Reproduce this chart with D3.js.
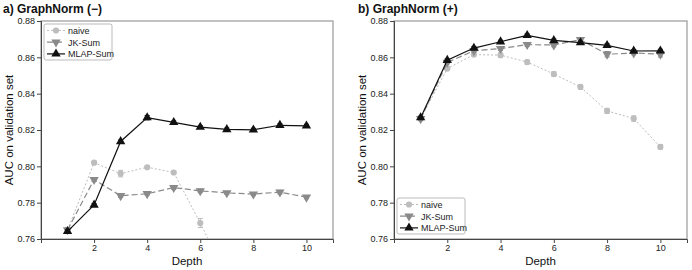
<!DOCTYPE html>
<html>
<head>
<meta charset="utf-8">
<script src="https://cdn.jsdelivr.net/npm/d3@7"></script>
<style>
  body { margin: 0; background: #fff; }
  text { font-family: "Liberation Sans", Arial, sans-serif; }
</style>
</head>
<body>
<div id="chart"></div>
<script>
var depths = [1, 2, 3, 4, 5, 6, 7, 8, 9, 10];
var yTicks = [0.76, 0.78, 0.80, 0.82, 0.84, 0.86, 0.88];
var xTicks = [2, 4, 6, 8, 10];
var seriesNames = ["naive", "JK-Sum", "MLAP-Sum"];

// panel a) GraphNorm (-)
var naiveA = [0.7650, 0.8020, 0.7960, 0.7995, 0.7966, 0.7688, 0.7390, 0.7200, 0.7050, 0.6950];
var naiveAErr = [0.0010, 0.0008, 0.0018, 0.0007, 0.0008, 0.0025, 0.002, 0.002, 0.002, 0.002];
var jkA = [0.7650, 0.7927, 0.7838, 0.7849, 0.7883, 0.7865, 0.7854, 0.7847, 0.7858, 0.7830];
var jkAErr = [0.0010, 0.0010, 0.0009, 0.0008, 0.0010, 0.0010, 0.0008, 0.0008, 0.0010, 0.0008];
var mlapA = [0.7642, 0.7787, 0.8137, 0.8268, 0.8242, 0.8216, 0.8203, 0.8201, 0.8226, 0.8223];
var mlapAErr = [0.0010, 0.0008, 0.0008, 0.0012, 0.0008, 0.0008, 0.0008, 0.0008, 0.0008, 0.0008];

// panel b) GraphNorm (+)
var naiveB = [0.8262, 0.8538, 0.8615, 0.8612, 0.8574, 0.8508, 0.8437, 0.8305, 0.8263, 0.8107];
var naiveBErr = [0.0008, 0.0008, 0.0008, 0.0012, 0.0012, 0.0013, 0.0012, 0.0014, 0.0015, 0.0012];
var jkB = [0.8262, 0.8572, 0.8636, 0.8648, 0.8670, 0.8668, 0.8697, 0.8617, 0.8624, 0.8617];
var jkBErr = [0.0008, 0.0008, 0.0008, 0.0010, 0.0010, 0.0010, 0.0008, 0.0015, 0.0010, 0.0015];
var mlapB = [0.8268, 0.8584, 0.8651, 0.8686, 0.8721, 0.8693, 0.8681, 0.8666, 0.8635, 0.8636];
var mlapBErr = [0.0008, 0.0008, 0.0008, 0.0008, 0.0008, 0.0008, 0.0008, 0.0008, 0.0008, 0.0008];

var styles = [
  {color: "#bdbdbd", dash: "2,2", width: 1, shape: "circle"},
  {color: "#8a8a8a", dash: "6,3", width: 1.2, shape: "down"},
  {color: "#111111", dash: null, width: 1.2, shape: "up"}
];

var width = 692, height = 270;
var svg = d3.select("#chart").append("svg")
  .attr("width", width)
  .attr("height", height);

function drawMarker(g, shape, color, cx, cy) {
  if (shape == "circle") {
    g.append("circle").attr("cx", cx).attr("cy", cy).attr("r", 3.1).attr("fill", color);
  } else {
    var sym = d3.symbol().type(d3.symbolTriangle).size(38);
    g.append("path")
      .attr("d", sym)
      .attr("fill", color)
      .attr("transform", "translate(" + cx + "," + cy + ")" + (shape == "down" ? " rotate(180)" : ""));
  }
}

function drawPanel(opts) {
  var left = opts.left, right = opts.right, top = 21, bottom = 239;

  var x = d3.scaleLinear().domain([0, 11]).range([left, right]);
  var y = d3.scaleLinear().domain([0.76, 0.88]).range([bottom, top]);

  var g = svg.append("g");

  g.append("text")
    .attr("x", opts.titleX).attr("y", 13)
    .attr("font-size", 12).attr("font-weight", "bold")
    .attr("fill", "#111")
    .text(opts.title);

  // frame
  g.append("rect")
    .attr("x", left).attr("y", top)
    .attr("width", right - left).attr("height", bottom - top)
    .attr("fill", "none").attr("stroke", "#999").attr("stroke-width", 1.2);

  var yAxis = g.append("g")
    .attr("transform", "translate(" + left + ",0)")
    .call(d3.axisLeft(y).tickValues(yTicks).tickFormat(d3.format(".2f")).tickSize(4).tickPadding(2));
  var xAxis = g.append("g")
    .attr("transform", "translate(0," + bottom + ")")
    .call(d3.axisBottom(x).tickValues(xTicks).tickSize(4).tickPadding(2));
  [xAxis, yAxis].forEach(function(a) {
    a.selectAll("path").attr("stroke", "#444");
    a.selectAll("line").attr("stroke", "#444");
    a.selectAll("text").attr("font-size", 9).attr("fill", "#222")
      .style("font-family", "'Liberation Sans', Arial, sans-serif");
  });

  g.append("text")
    .attr("transform", "translate(" + opts.yTitleX + "," + ((top + bottom) / 2) + ") rotate(-90)")
    .attr("text-anchor", "middle")
    .attr("font-size", 11.5).attr("fill", "#111")
    .text("AUC on validation set");

  g.append("text")
    .attr("x", (left + right) / 2).attr("y", 265)
    .attr("text-anchor", "middle")
    .attr("font-size", 11.5).attr("fill", "#111")
    .text("Depth");

  var clipId = "clip" + opts.id;
  svg.append("clipPath").attr("id", clipId)
    .append("rect").attr("x", left).attr("y", top).attr("width", right - left).attr("height", bottom - top + 1);

  var plot = g.append("g").attr("clip-path", "url(#" + clipId + ")");

  var line = d3.line()
    .x(function(d, i) { return x(depths[i]); })
    .y(function(d) { return y(d); });

  opts.series.forEach(function(s, k) {
    var st = styles[k];
    var sg = plot.append("g");
    sg.append("path")
      .datum(s.values)
      .attr("fill", "none")
      .attr("stroke", st.color)
      .attr("stroke-width", st.width)
      .attr("stroke-dasharray", st.dash)
      .attr("d", line);
    s.values.forEach(function(v, i) {
      var cx = x(depths[i]);
      var e = s.err[i];
      sg.append("line").attr("x1", cx).attr("x2", cx)
        .attr("y1", y(v - e)).attr("y2", y(v + e))
        .attr("stroke", st.color).attr("stroke-width", 1);
      [v - e, v + e].forEach(function(t) {
        sg.append("line").attr("x1", cx - 2.5).attr("x2", cx + 2.5)
          .attr("y1", y(t)).attr("y2", y(t))
          .attr("stroke", st.color).attr("stroke-width", 1);
      });
      drawMarker(sg, st.shape, st.color, cx, y(v));
    });
  });

  // legend
  var lg = g.append("g").attr("transform", "translate(" + opts.legX + "," + opts.legY + ")");
  lg.append("rect")
    .attr("x", 0).attr("y", 0).attr("width", 68).attr("height", 36)
    .attr("rx", 2)
    .attr("fill", "#fff").attr("stroke", "#bbb").attr("stroke-width", 1);
  seriesNames.forEach(function(name, k) {
    var st = styles[k];
    var yy = 6.5 + k * 11.7;
    lg.append("line")
      .attr("x1", 3).attr("x2", 21).attr("y1", yy).attr("y2", yy)
      .attr("stroke", st.color).attr("stroke-width", st.width)
      .attr("stroke-dasharray", st.dash);
    drawMarker(lg, st.shape, st.color, 12, yy);
    lg.append("text")
      .attr("x", 24).attr("y", yy + 3.3)
      .attr("font-size", 9).attr("fill", "#222")
      .text(name);
  });
}

drawPanel({
  id: "a", title: "a) GraphNorm (\u2212)", titleX: 3,
  left: 41, right: 333, yTitleX: 13,
  legX: 44, legY: 24,
  series: [
    {values: naiveA, err: naiveAErr},
    {values: jkA, err: jkAErr},
    {values: mlapA, err: mlapAErr}
  ]
});

drawPanel({
  id: "b", title: "b) GraphNorm (+)", titleX: 358,
  left: 394, right: 687, yTitleX: 366,
  legX: 397, legY: 198,
  series: [
    {values: naiveB, err: naiveBErr},
    {values: jkB, err: jkBErr},
    {values: mlapB, err: mlapBErr}
  ]
});
</script>
</body>
</html>
